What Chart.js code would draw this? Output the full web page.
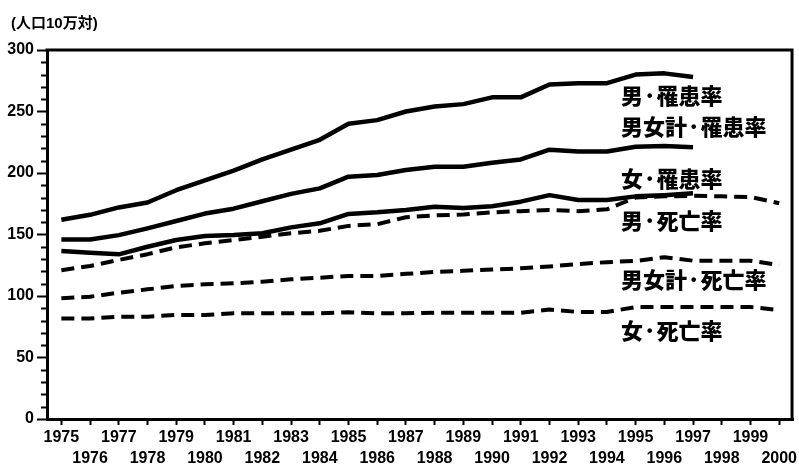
<!DOCTYPE html>
<html><head><meta charset="utf-8">
<script src="https://cdn.jsdelivr.net/npm/chart.js@4.4.0/dist/chart.umd.min.js"></script>
<style>html,body{margin:0;padding:0;background:#fff;}#wrap{width:799px;height:468px;}</style>
</head><body><div id="wrap"><canvas id="c" width="799" height="468"></canvas></div>
<script>
// ---- data ----
const years = ['1975','1976','1977','1978','1979','1980','1981','1982','1983','1984','1985','1986','1987','1988','1989','1990','1991','1992','1993','1994','1995','1996','1997','1998','1999','2000'];
const maleIncidence   = [162,166,172,176,186,194,202,211,219,227,240,243,250,254,256,261.5,261.5,272,273,273,280,281,278,null,null,null];
const totalIncidence  = [146,146,149.5,155,161,167,171,177,183,187.5,197,198.4,202.4,205,205,208.4,211,219,217.5,217.5,221.4,222,221,null,null,null];
const femaleIncidence = [136.6,135.2,133.9,140,145.5,148.8,149.6,151,155.8,159.1,166.7,168,170,172.6,171.5,173,176.7,182,178,178,181,182,183.5,null,null,null];
const maleMortality   = [121,124.4,129.3,134,139.6,142.8,145.5,148.2,151,153,157,158.4,164,165.5,166.3,168,169,170,169,170.5,180,181,181.5,181,180.5,175.4];
const totalMortality  = [98.1,99.4,102.7,105.4,108.1,109.5,110.3,111.6,113.6,114.9,116.3,116.3,118,119.5,120.5,121.5,122.5,124,126,127.5,128.5,131.5,128.7,128.7,128.7,125.2];
const femaleMortality = [81.8,81.8,83.2,83.2,84.6,84.6,85.9,85.9,85.9,85.9,86.7,86,86,86.4,86.4,86.4,86.4,89,87,87,91,91,91,91,91,88.6];
const seriesNames = ['男·罹患率','男女計·罹患率','女·罹患率','男·死亡率','男女計·死亡率','女·死亡率'];
const unitLabel = '(人口10万対)';
const yTicks = [0,50,100,150,200,250,300];

// ---- label placement (scale values, not data) ----
const labelPos = [
  {i:0, yv:262.6}, {i:1, yv:237.5}, {i:2, yv:195.5},
  {i:3, yv:161.5}, {i:4, yv:113.5}, {i:5, yv:71.5}
];

const numFont = '"Liberation Sans", Arial, sans-serif';
const cjkFont = '"Noto Sans CJK JP", sans-serif';

const frameAndLabels = {
  id: 'frameAndLabels',
  afterDraw(chart) {
    const {ctx, chartArea: a, scales} = chart;
    const y = scales.y;
    ctx.save();
    ctx.strokeStyle = '#000';
    ctx.lineWidth = 3;
    ctx.beginPath();
    ctx.moveTo(a.left - 1.5, a.top);
    ctx.lineTo(a.right - 1.5, a.top);
    ctx.lineTo(a.right - 1.5, a.bottom);
    ctx.stroke();
    ctx.lineWidth = 2;
    for (let v = 10; v < 300; v += 10) {
      if (v % 50 === 0) continue;
      const py = Math.round(y.getPixelForValue(v)) + 0.5;
      ctx.beginPath();
      ctx.moveTo(a.left - 6, py);
      ctx.lineTo(a.left, py);
      ctx.stroke();
    }
    ctx.fillStyle = '#000';
    ctx.textBaseline = 'middle';
    ctx.textAlign = 'left';
    ctx.font = 'bold 15px "Liberation Sans", ' + cjkFont;
    ctx.fillText(unitLabel, 11, 24);
    ctx.font = '900 22px ' + cjkFont;
    labelPos.forEach(p => {
      ctx.fillText(seriesNames[p.i], 621, y.getPixelForValue(p.yv));
    });
    ctx.restore();
  }
};

function ds(label, data, dashed) {
  return {
    label, data,
    borderColor: '#000',
    borderWidth: dashed ? 4 : 4.5,
    borderDash: dashed ? [13, 7] : [],
    borderCapStyle: 'butt',
    borderJoinStyle: 'round',
    pointRadius: 0,
    tension: 0,
    fill: false
  };
}

new Chart(document.getElementById('c'), {
  type: 'line',
  data: {
    labels: years,
    datasets: [
      ds(seriesNames[0], maleIncidence, false),
      ds(seriesNames[1], totalIncidence, false),
      ds(seriesNames[2], femaleIncidence, false),
      ds(seriesNames[3], maleMortality, true),
      ds(seriesNames[4], totalMortality, true),
      ds(seriesNames[5], femaleMortality, true)
    ]
  },
  options: {
    responsive: false,
    animation: false,
    devicePixelRatio: 1,
    layout: { padding: { top: 50, right: 1, left: 0, bottom: 0 } },
    plugins: { legend: { display: false }, tooltip: { enabled: false }, title: { display: false } },
    scales: {
      x: {
        type: 'category',
        offset: true,
        grid: { drawOnChartArea: false, drawTicks: true, tickLength: 6, tickWidth: 2, tickColor: '#000' },
        border: { display: true, width: 3, color: '#000' },
        ticks: {
          autoSkip: false, maxRotation: 0, minRotation: 0, padding: 2, color: '#000',
          font: { family: numFont, size: 16, weight: 'bold', lineHeight: 1.3 },
          callback: (v, i) => (i % 2 === 0 ? years[i] : ['', years[i]])
        },
        afterFit: (s) => { s.height = 49; }
      },
      y: {
        min: 0, max: 300,
        afterBuildTicks: (s) => { s.ticks = yTicks.map(v => ({ value: v })); },
        grid: { drawOnChartArea: false, drawTicks: true, tickLength: 10, tickWidth: 2, tickColor: '#000' },
        border: { display: true, width: 3, color: '#000' },
        ticks: { padding: 3, color: '#000', font: { family: numFont, size: 16, weight: 'bold' } },
        afterFit: (s) => { s.width = 47; }
      }
    }
  },
  plugins: [frameAndLabels]
});
</script>
</body></html>
